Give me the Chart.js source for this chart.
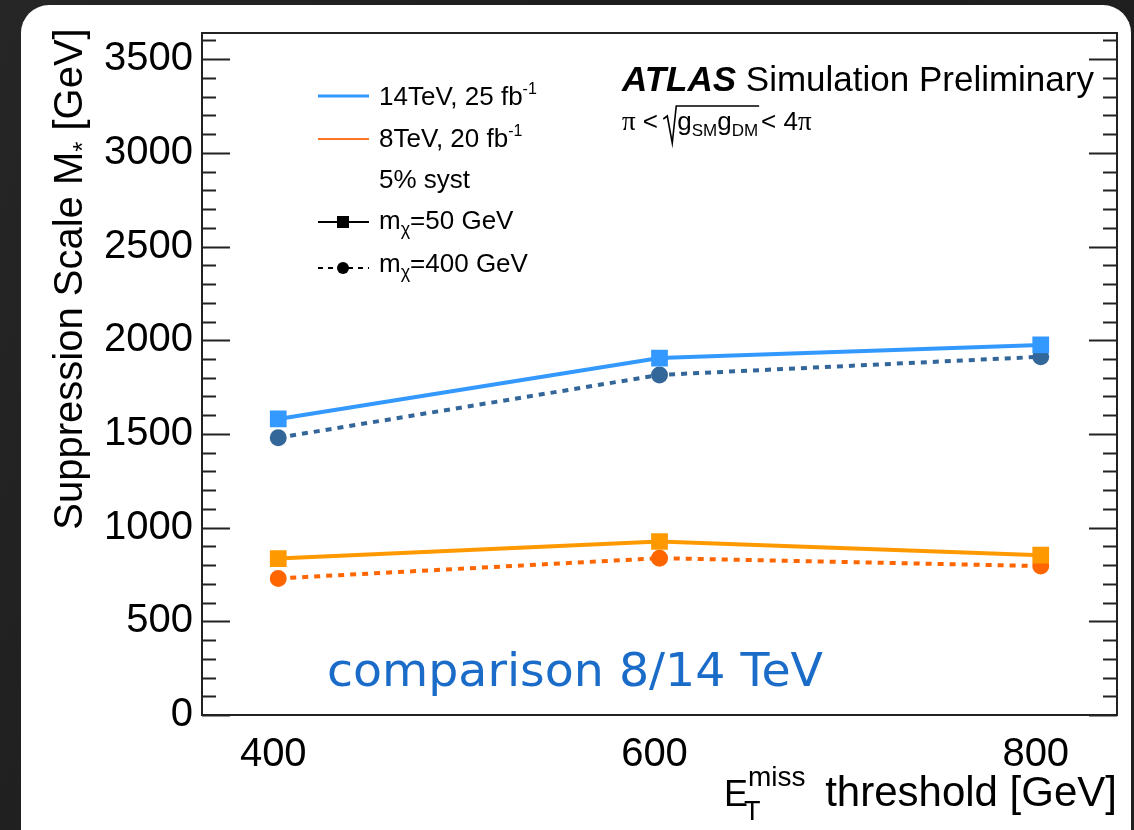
<!DOCTYPE html>
<html>
<head>
<meta charset="utf-8">
<script src="https://cdn.jsdelivr.net/npm/chart.js@4.4.1/dist/chart.umd.min.js"></script>
<style>
  html, body { margin: 0; padding: 0; }
  body {
    width: 1134px; height: 830px; position: relative; overflow: hidden;
    background: linear-gradient(115deg, #262626 0%, #1d1d1d 40%, #202020 100%);
  }
  .card {
    position: absolute; left: 21px; top: 5px; width: 1110px; height: 900px;
    background: #fff; border-radius: 28px;
  }
  #wrap { position: absolute; left: 0; top: 0; width: 1134px; height: 830px; }
</style>
</head>
<body>
<div class="card"></div>
<div id="wrap"><canvas id="chart" width="1134" height="830"></canvas></div>
<script>
// Data
const thresholds = [400, 600, 800];
const blue50 = [1580, 1905, 1975];    // 14 TeV, m_chi = 50 GeV
const blue400 = [1480, 1815, 1912];   // 14 TeV, m_chi = 400 GeV
const orange50 = [835, 926, 853];     // 8 TeV, m_chi = 50 GeV
const orange400 = [729, 837, 795];    // 8 TeV, m_chi = 400 GeV

const xTicks = [400, 600, 800];
const yTicks = [0, 500, 1000, 1500, 2000, 2500, 3000, 3500];
const yMinorStep = 100;

const SANS = '"Liberation Sans", Arial, Helvetica, sans-serif';
const SERIF = '"Liberation Serif", "Times New Roman", serif';

function pts(vals) {
  return thresholds.map((t, i) => ({ x: t, y: vals[i] }));
}

// draw a row of text pieces: [text, size, dy, style, family]
function runs(ctx, x, y, parts) {
  for (const [t, size, dy, style, fam] of parts) {
    ctx.font = (style || '') + ' ' + size + 'px ' + (fam || SANS);
    ctx.fillText(t, x, y + (dy || 0));
    x += ctx.measureText(t).width;
  }
  return x;
}

function runsWidth(ctx, parts) {
  let w = 0;
  for (const [t, size, dy, style, fam] of parts) {
    ctx.font = (style || '') + ' ' + size + 'px ' + (fam || SANS);
    w += ctx.measureText(t).width;
  }
  return w;
}

const decor = {
  id: 'decor',
  afterDraw(chart) {
    const ctx = chart.ctx;
    const a = chart.chartArea;
    const y = chart.scales.y;
    ctx.save();

    // frame + inward ticks on both y sides
    ctx.strokeStyle = '#222';
    ctx.lineWidth = 2;
    for (let v = 0; v <= y.max; v += yMinorStep) {
      const py = Math.round(y.getPixelForValue(v)) + 0.5;
      const len = v % 500 === 0 ? 28 : 14;
      ctx.beginPath();
      ctx.moveTo(a.left, py); ctx.lineTo(a.left + len, py);
      ctx.moveTo(a.right, py); ctx.lineTo(a.right - len, py);
      ctx.stroke();
    }
    ctx.strokeRect(a.left, a.top, a.right - a.left, a.bottom - a.top);

    ctx.fillStyle = '#000';
    ctx.textBaseline = 'alphabetic';
    ctx.textAlign = 'left';

    // legend
    const lx0 = 318, lx1 = 369, tx = 379;
    ctx.lineWidth = 3; ctx.strokeStyle = '#3399ff';
    ctx.beginPath(); ctx.moveTo(lx0, 96); ctx.lineTo(lx1, 96); ctx.stroke();
    runs(ctx, tx, 105, [['14TeV, 25 fb', 26], ['-1', 16, -11]]);

    ctx.lineWidth = 2; ctx.strokeStyle = '#ff7722';
    ctx.beginPath(); ctx.moveTo(lx0, 139); ctx.lineTo(lx1, 139); ctx.stroke();
    runs(ctx, tx, 147, [['8TeV, 20 fb', 26], ['-1', 16, -11]]);

    runs(ctx, tx, 188, [['5% syst', 26]]);

    ctx.lineWidth = 2; ctx.strokeStyle = '#000';
    ctx.beginPath(); ctx.moveTo(lx0, 222); ctx.lineTo(lx1, 222); ctx.stroke();
    ctx.fillRect(337, 216, 12, 12);
    runs(ctx, tx, 229, [['m', 26], ['\u03c7', 18, 6], ['=50 GeV', 26]]);

    ctx.setLineDash([5, 5]);
    ctx.beginPath(); ctx.moveTo(lx0, 268); ctx.lineTo(lx1, 268); ctx.stroke();
    ctx.setLineDash([]);
    ctx.beginPath(); ctx.arc(343, 268, 6, 0, Math.PI * 2); ctx.fill();
    runs(ctx, tx, 272, [['m', 26], ['\u03c7', 18, 6], ['=400 GeV', 26]]);

    // ATLAS label
    runs(ctx, 622, 91, [['ATLAS', 35, 0, 'italic bold'], [' Simulation Preliminary', 35]]);
    let cx = runs(ctx, 622, 130, [['\u03c0', 27, 0, '', SERIF], [' < ', 26]]);
    const sx = cx - 2;
    cx = runs(ctx, sx + 14, 130, [['g', 26], ['SM', 17, 6], ['g', 26], ['DM', 17, 6]]);
    ctx.lineWidth = 1.6; ctx.strokeStyle = '#000';
    ctx.beginPath();
    ctx.moveTo(sx, 119); ctx.lineTo(sx + 4, 116); ctx.lineTo(sx + 9, 143);
    ctx.lineTo(sx + 13, 106); ctx.lineTo(cx + 1, 106);
    ctx.stroke();
    runs(ctx, cx + 3, 130, [['< 4', 26], ['\u03c0', 27, 0, '', SERIF]]);

    // y title (rotated)
    const yParts = [['Suppression Scale M', 40], ['*', 26, 9], [' [GeV]', 40]];
    ctx.save();
    ctx.translate(82, 279);
    ctx.rotate(-Math.PI / 2);
    const yw = runsWidth(ctx, yParts);
    runs(ctx, -yw / 2, 0, yParts);
    ctx.restore();

    // x title
    ctx.textAlign = 'right';
    ctx.font = '42px ' + SANS;
    ctx.fillText('threshold [GeV]', 1117, 806);
    ctx.textAlign = 'left';
    runs(ctx, 724, 806, [['E', 36]]);
    runs(ctx, 744, 820, [['T', 27]]);
    runs(ctx, 748, 786, [['miss', 28]]);

    // handwritten note
    ctx.fillStyle = '#1a6cc8';
    ctx.font = '46px "DejaVu Sans", sans-serif';
    const note = 'comparison 8/14 TeV';
    const nw = ctx.measureText(note).width;
    ctx.save();
    ctx.translate(327, 686);
    ctx.scale(496 / nw, 1);
    ctx.fillText(note, 0, 0);
    ctx.restore();

    ctx.restore();
  }
};

new Chart(document.getElementById('chart'), {
  type: 'line',
  data: {
    datasets: [
      {
        label: '14TeV, m_chi=50 GeV',
        data: pts(blue50),
        borderColor: '#3399ff', backgroundColor: '#3399ff',
        borderWidth: 4, pointStyle: 'rect', pointRadius: 9
      },
      {
        label: '14TeV, m_chi=400 GeV',
        data: pts(blue400),
        borderColor: '#336699', backgroundColor: '#336699',
        borderWidth: 4, borderDash: [6, 6], pointStyle: 'circle', pointRadius: 6.5
      },
      {
        label: '8TeV, m_chi=50 GeV',
        data: pts(orange50),
        borderColor: '#ff9900', backgroundColor: '#ff9900',
        borderWidth: 4, pointStyle: 'rect', pointRadius: 9
      },
      {
        label: '8TeV, m_chi=400 GeV',
        data: pts(orange400),
        borderColor: '#ff6600', backgroundColor: '#ff6600',
        borderWidth: 4, borderDash: [6, 6], pointStyle: 'circle', pointRadius: 6.5
      }
    ]
  },
  options: {
    responsive: false,
    animation: false,
    layout: { padding: { top: 30, right: 17, left: 0, bottom: 0 } },
    plugins: {
      legend: { display: false },
      tooltip: { enabled: false }
    },
    scales: {
      x: {
        type: 'linear',
        min: 360, max: 840,
        afterBuildTicks: s => { s.ticks = xTicks.map(v => ({ value: v })); },
        afterFit: s => { s.height = 115; },
        grid: { display: false, drawTicks: false },
        border: { display: false },
        ticks: {
          color: '#000',
          font: { family: SANS, size: 40 },
          padding: 16,
          labelOffset: -5,
          maxRotation: 0,
          callback: v => String(v)
        }
      },
      y: {
        type: 'linear',
        min: 0, max: 3640,
        afterBuildTicks: s => { s.ticks = yTicks.map(v => ({ value: v })); },
        afterFit: s => { s.width = 202; },
        grid: { display: false, drawTicks: false },
        border: { display: false },
        ticks: {
          color: '#000',
          font: { family: SANS, size: 40 },
          padding: 9,
          callback: v => String(v)
        }
      }
    }
  },
  plugins: [decor]
});
</script>
</body>
</html>
